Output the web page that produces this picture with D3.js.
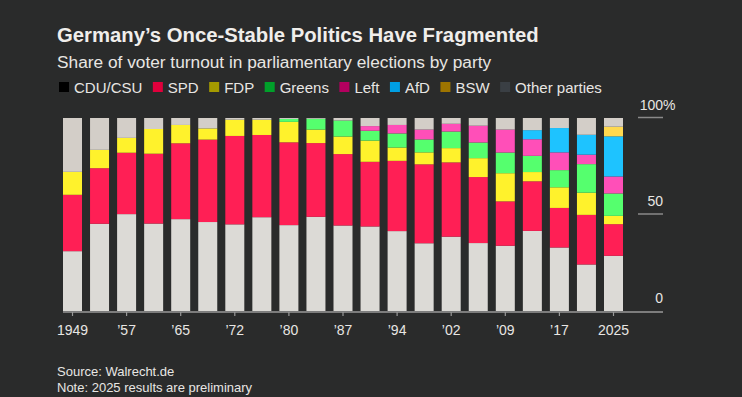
<!DOCTYPE html>
<html lang="en">
<head>
    <meta charset="utf-8">
    <title>Germany's Once-Stable Politics Have Fragmented</title>
    <style type="text/css">
        html, body { margin: 0; padding: 0; background: #2a2b2b; }
        svg { display: block; font-family: "Liberation Sans", Arial, sans-serif; }
        .title { font-size: 20.3px; font-weight: bold; fill: #f0eeeb; }
        .subtitle { font-size: 17.3px; fill: #e8e6e3; }
        .legend text { font-size: 15px; fill: #e8e6e3; }
        .axis-label { font-size: 14px; fill: #e8e6e3; }
        .foot { font-size: 13px; fill: #e8e6e3; }
    </style>
</head>
<body>
<svg class="chart" width="742" height="397"></svg>
<script src="https://d3js.org/d3.v7.min.js"></script>
<script>
    // election years
    var years = [1949, 1953, 1957, 1961, 1965, 1969, 1972, 1976, 1980, 1983, 1987,
                 1990, 1994, 1998, 2002, 2005, 2009, 2013, 2017, 2021, 2025];

    // vote shares, %
    var cdu    = [31.0, 45.2, 50.2, 45.3, 47.6, 46.1, 44.9, 48.6, 44.5, 48.8, 44.3,
                  43.8, 41.4, 35.1, 38.5, 35.2, 33.8, 41.5, 32.9, 24.1, 28.6];
    var spd    = [29.2, 28.8, 31.8, 36.2, 39.3, 42.7, 45.8, 42.6, 42.9, 38.2, 37.0,
                  33.5, 36.4, 40.9, 38.5, 34.2, 23.0, 25.7, 20.5, 25.7, 16.4];
    var fdp    = [11.9, 9.5, 7.7, 12.8, 9.5, 5.8, 8.4, 7.9, 10.6, 7.0, 9.1,
                  11.0, 6.9, 6.2, 7.4, 9.8, 14.6, 4.8, 10.7, 11.5, 4.3];
    var greens = [0, 0, 0, 0, 0, 0, 0, 0, 1.5, 5.6, 8.3,
                  5.1, 7.3, 6.7, 8.6, 8.1, 10.7, 8.4, 8.9, 14.8, 11.6];
    var left   = [0, 0, 0, 0, 0, 0, 0, 0, 0, 0, 0,
                  2.4, 4.4, 5.1, 4.0, 8.7, 11.9, 8.6, 9.2, 4.9, 8.8];
    var afd    = [0, 0, 0, 0, 0, 0, 0, 0, 0, 0, 0,
                  0, 0, 0, 0, 0, 0, 4.7, 12.6, 10.3, 20.8];
    var bsw    = [0, 0, 0, 0, 0, 0, 0, 0, 0, 0, 0,
                  0, 0, 0, 0, 0, 0, 0, 0, 0, 5.0];
    var other  = [27.9, 16.5, 10.3, 5.7, 3.6, 5.4, 0.9, 0.9, 0.5, 0.4, 1.3,
                  4.2, 3.6, 6.0, 3.0, 4.0, 6.0, 6.3, 5.2, 8.7, 4.5];

    var parties = ['CDU/CSU', 'SPD', 'FDP', 'Greens', 'Left', 'AfD', 'BSW', 'Other parties'];
    var barColors = ['#dcdad6', '#ff1f55', '#fff22c', '#55ff6e', '#ff4fb8', '#1ec3ff', '#ffd94f', '#d3cec8'];
    var keyColors = ['#000000', '#e0003c', '#a49a00', '#00a02a', '#b3005f', '#009fe3', '#9d7400', '#3a3f44'];

    var tickYears = [1949, 1957, 1965, 1972, 1980, 1987, 1994, 2002, 2009, 2017, 2025];
    var yTicks = [0, 50, 100];

    // build rows for the stack
    var series = [cdu, spd, fdp, greens, left, afd, bsw, other];
    var rows = years.map(function(yr, i) {
        var r = { year: yr };
        parties.forEach(function(p, j) { r[p] = series[j][i]; });
        return r;
    });

    var svg = d3.select('.chart');

    // title block
    svg.append('text').attr('class', 'title').attr('x', 57).attr('y', 42)
        .text('Germany\u2019s Once-Stable Politics Have Fragmented');
    svg.append('text').attr('class', 'subtitle').attr('x', 57).attr('y', 68)
        .text('Share of voter turnout in parliamentary elections by party');

    // legend
    var legend = svg.append('g').attr('class', 'legend');
    var lx = 59;
    parties.forEach(function(p, i) {
        var item = legend.append('g').attr('transform', 'translate(' + lx + ',0)');
        item.append('rect').attr('x', 0).attr('y', 82).attr('width', 10).attr('height', 10)
            .attr('fill', keyColors[i]);
        var t = item.append('text').attr('x', 15).attr('y', 92.5).text(p);
        lx += 15 + t.node().getComputedTextLength() + 10.5;
    });

    // scales
    var x = d3.scaleBand().domain(years).range([63, 623]).paddingInner(0.2976).paddingOuter(0);
    var y = d3.scaleLinear().domain([0, 100]).range([311, 118]);

    var stack = d3.stack().keys(parties);
    var layers = stack(rows);

    svg.append('g').selectAll('g')
        .data(layers)
        .join('g')
        .attr('fill', function(d, i) { return barColors[i]; })
        .selectAll('rect')
        .data(function(d) { return d; })
        .join('rect')
        .attr('x', function(d) { return x(d.data.year); })
        .attr('width', x.bandwidth())
        .attr('y', function(d) { return y(d[1]); })
        .attr('height', function(d) { return y(d[0]) - y(d[1]); });

    // y grid and labels on the right
    var gy = svg.append('g');
    gy.selectAll('line')
        .data(yTicks.filter(function(d) { return d > 0; }))
        .join('line')
        .attr('x1', 638).attr('x2', 663)
        .attr('y1', function(d) { return y(d) - 0.5; })
        .attr('y2', function(d) { return y(d) - 0.5; })
        .attr('stroke', '#8a8a8a').attr('stroke-width', 1.5);
    gy.selectAll('text')
        .data(yTicks)
        .join('text')
        .attr('class', 'axis-label')
        .attr('x', 663)
        .attr('y', function(d) { return y(d) - 8.5; })
        .attr('text-anchor', 'end')
        .text(function(d) { return d; });
    svg.append('text').attr('class', 'axis-label')
        .attr('x', 663).attr('y', y(100) - 8.5).text('%');

    // x axis
    var xAxis = d3.axisBottom(x)
        .tickValues(tickYears)
        .tickSize(4)
        .tickPadding(9)
        .tickFormat(function(d) {
            return (d === 1949 || d === 2025) ? d : '\u2019' + String(d).slice(2);
        });

    var gx = svg.append('g')
        .attr('transform', 'translate(0,312)')
        .call(xAxis);
    gx.select('.domain').remove();
    gx.selectAll('.tick line').attr('stroke', '#9a9a9a').attr('stroke-width', 1.2);
    gx.selectAll('.tick text').attr('class', 'axis-label').attr('fill', null)
        .style('font-size', '14px').style('font-family', null);
    gx.append('line')
        .attr('x1', 63).attr('x2', 663).attr('y1', 0).attr('y2', 0)
        .attr('stroke', '#9a9a9a').attr('stroke-width', 1.5);

    // footer
    svg.append('text').attr('class', 'foot').attr('x', 57).attr('y', 376).text('Source: Walrecht.de');
    svg.append('text').attr('class', 'foot').attr('x', 57).attr('y', 392).text('Note: 2025 results are preliminary');
</script>
</body>
</html>
